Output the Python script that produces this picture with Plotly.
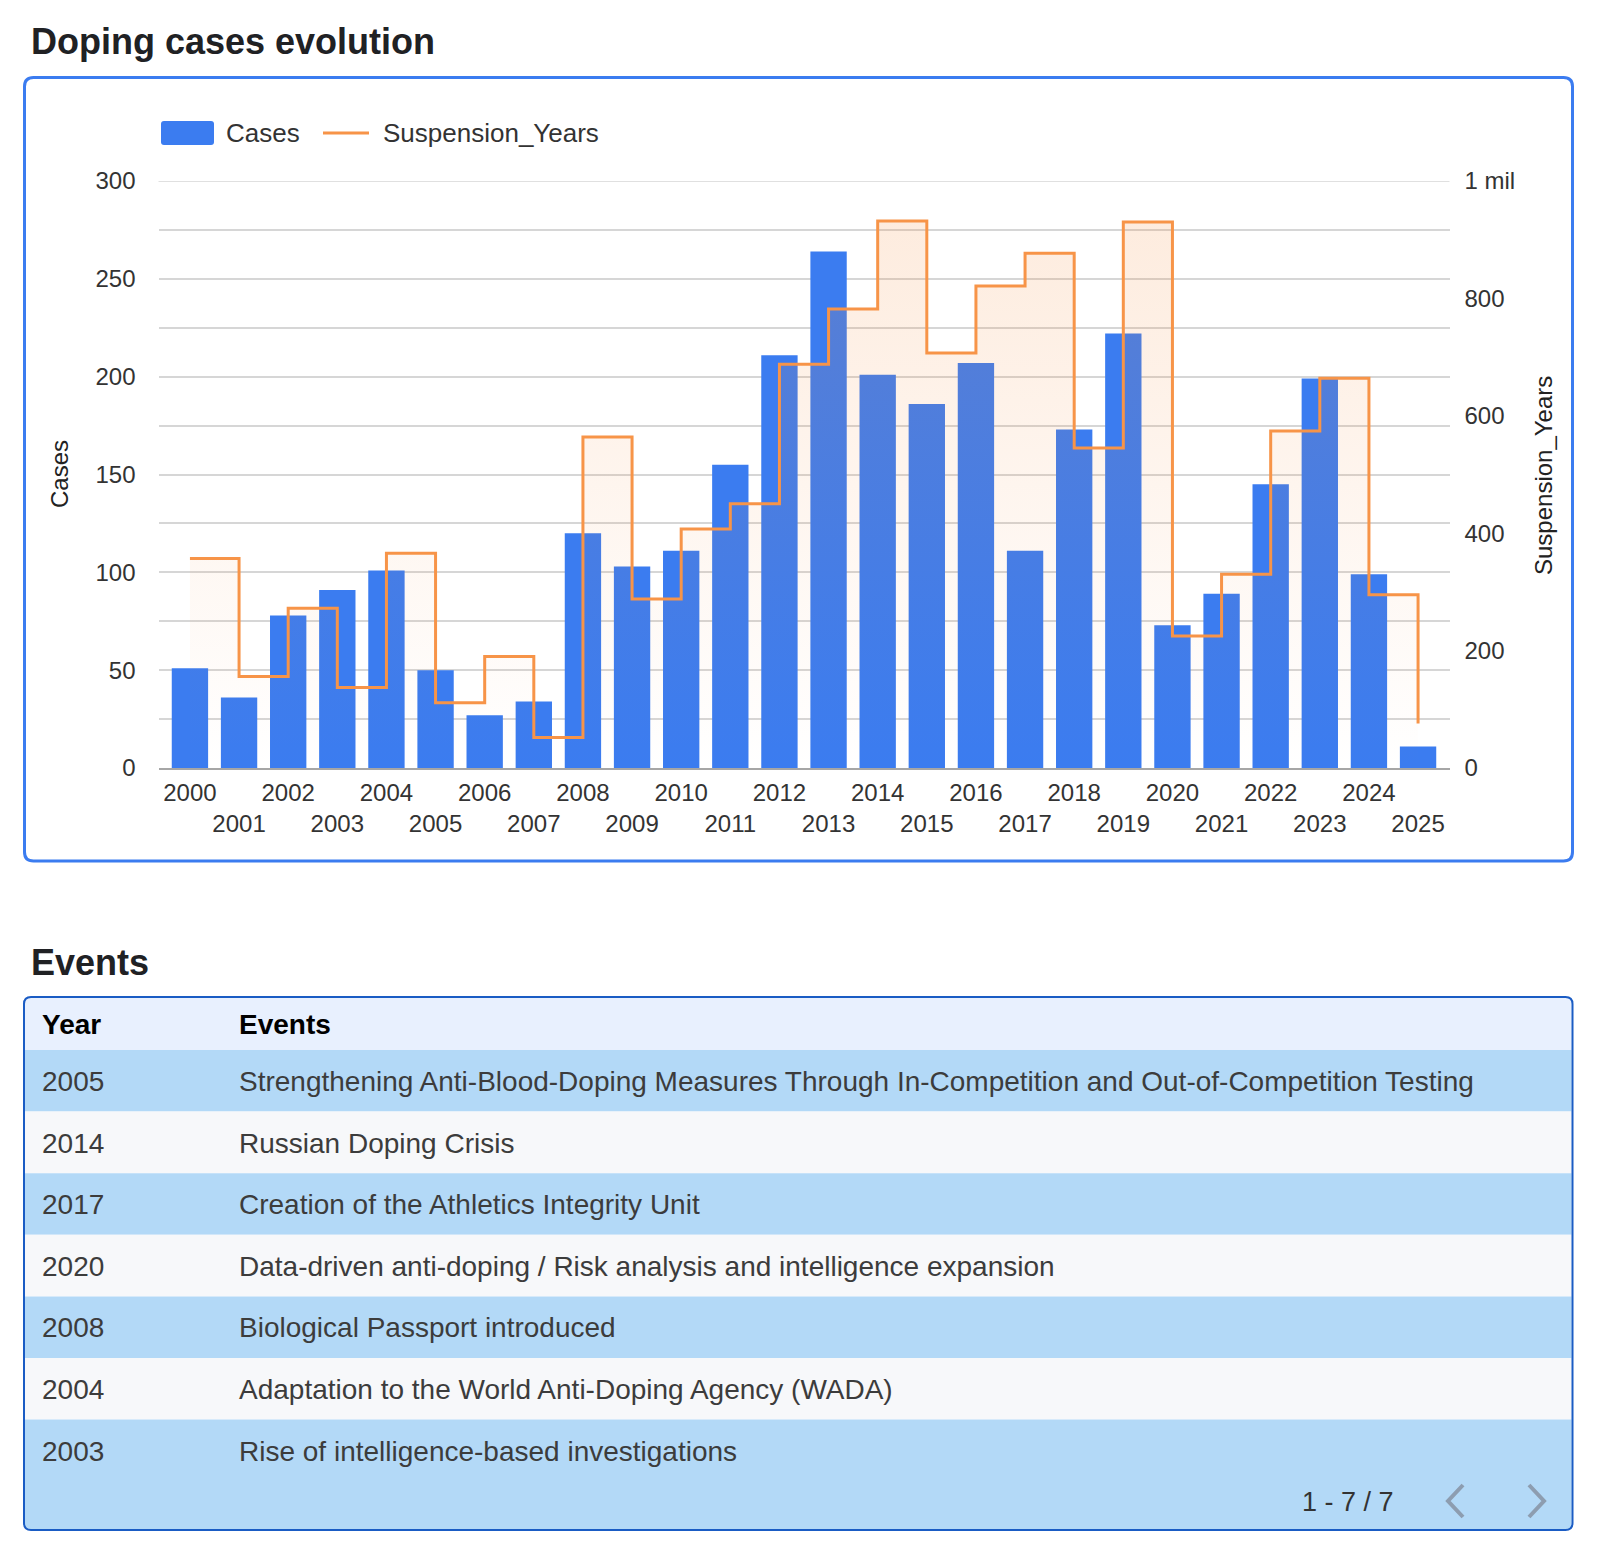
import plotly.graph_objects as go

# ---- data ----
years = [str(y) for y in range(2000, 2026)]
cases = [51, 36, 78, 91, 101, 50, 27, 34, 120, 103, 111, 155, 211,
         264, 201, 186, 207, 111, 173, 222, 73, 89, 145, 199, 99, 11]
suspension_years = [357, 156, 272, 137, 366, 111, 190, 52, 564, 288, 407, 450, 688,
                    782, 932, 707, 821, 877, 545, 930, 225, 330, 574, 664, 295, 76]

event_years = ["2005", "2014", "2017", "2020", "2008", "2004", "2003"]
event_texts = [
    "Strengthening Anti-Blood-Doping Measures Through In-Competition and Out-of-Competition Testing",
    "Russian Doping Crisis",
    "Creation of the Athletics Integrity Unit",
    "Data-driven anti-doping / Risk analysis and intelligence expansion",
    "Biological Passport introduced",
    "Adaptation to the World Anti-Doping Agency (WADA)",
    "Rise of intelligence-based investigations",
]

right_ticks = [0, 200, 400, 600, 800, 1000]
right_ticktext = ["0", "200", "400", "600", "800", "1 mil"]

# ---- page geometry (figure sits inside the 8px body margin) ----
OX, OY, W, H = 8, 8, 1588, 1540
FONT = "Liberation Sans, Arial, sans-serif"
BLUE = "#3b7cf0"
ORANGE = "#f79448"
GRID = "#d6d6d6"
ROW_BLUE = "#b3d9f7"
ROW_GREY = "#f7f8fa"

PLOT_L, PLOT_R, PLOT_T, PLOT_B = 158.5, 1449.5, 181, 768
HEADER_TOP, HEADER_H, ROW_H = 997, 53, 61.6


def fx(x):
    return (x - OX) / W


def fy(y):
    return 1 - (y - OY) / H


def rounded_rect(x0, y0, x1, y1, r):
    a0, a1 = fx(x0), fx(x1)
    b0, b1 = fy(y0), fy(y1)
    rx, ry = r / W, r / H
    return (f"M{a0 + rx},{b0} L{a1 - rx},{b0} Q{a1},{b0} {a1},{b0 - ry} "
            f"L{a1},{b1 + ry} Q{a1},{b1} {a1 - rx},{b1} L{a0 + rx},{b1} "
            f"Q{a0},{b1} {a0},{b1 + ry} L{a0},{b0 - ry} Q{a0},{b0} {a0 + rx},{b0} Z")


fig = go.Figure()

fig.add_trace(go.Bar(
    x=years, y=cases, name="Cases",
    marker=dict(color=BLUE, line=dict(width=0)),
    showlegend=False, hoverinfo="x+y",
))

fig.add_trace(go.Scatter(
    x=years, y=suspension_years, name="Suspension_Years", yaxis="y2",
    mode="lines", line=dict(color=ORANGE, width=3, shape="hv"),
    fill="tozeroy",
    fillgradient=dict(type="vertical", start=0, stop=1000,
                      colorscale=[[0, "rgba(245,140,60,0)"], [1, "rgba(245,140,60,0.18)"]]),
    showlegend=False,
))

# events table: text only, the row bands are drawn as shapes underneath
# (first column is only a left inset)
fig.add_trace(go.Table(
    domain=dict(x=[fx(24), fx(1572)], y=[fy(1530), fy(HEADER_TOP + 4)]),
    columnwidth=[10, 197, 1341],
    header=dict(values=["", "<b>Year</b>", "<b>Events</b>"],
                fill_color="rgba(0,0,0,0)", line=dict(width=0),
                align="left", height=HEADER_H + 8,
                font=dict(family=FONT, size=28, color="#000000")),
    cells=dict(values=[[""] * len(event_years), event_years, event_texts],
               fill_color="rgba(0,0,0,0)", line=dict(width=0),
               align="left", height=ROW_H,
               font=dict(family=FONT, size=28, color="#3c3c3c")),
))

shapes = [
    # top gridline (plotly skips the one on the range edge)
    dict(type="line", xref="paper", yref="y", x0=fx(PLOT_L), x1=fx(PLOT_R), y0=300, y1=300,
         line=dict(color=GRID, width=1.5), layer="below"),
    # chart card
    dict(type="path", xref="paper", yref="paper", path=rounded_rect(24.5, 77.5, 1572.5, 861, 9),
         line=dict(color=BLUE, width=3), fillcolor="rgba(0,0,0,0)"),
    # table header band
    dict(type="rect", xref="paper", yref="paper", x0=fx(25), x1=fx(1571.5),
         y0=fy(HEADER_TOP + 1), y1=fy(HEADER_TOP + HEADER_H),
         fillcolor="#e8f0fe", line=dict(width=0), layer="below"),
]
n_rows = len(event_years)
for i in range(n_rows):
    top = HEADER_TOP + HEADER_H + i * ROW_H
    bottom = 1529 if i == n_rows - 1 else top + ROW_H
    shapes.append(dict(type="rect", xref="paper", yref="paper", x0=fx(25), x1=fx(1571.5),
                       y0=fy(bottom), y1=fy(top),
                       fillcolor=ROW_BLUE if i % 2 == 0 else ROW_GREY,
                       line=dict(width=0), layer="below"))
shapes += [
    # table card
    dict(type="path", xref="paper", yref="paper", path=rounded_rect(24, 997, 1572.5, 1530, 7),
         line=dict(color="#1a5cc4", width=2), fillcolor="rgba(0,0,0,0)"),
    # legend marks
    dict(type="path", xref="paper", yref="paper", path=rounded_rect(161, 121, 214, 145, 3),
         fillcolor=BLUE, line=dict(width=0)),
    dict(type="line", xref="paper", yref="paper", x0=fx(323), x1=fx(369), y0=fy(133), y1=fy(133),
         line=dict(color=ORANGE, width=3)),
    # pager chevrons
    dict(type="path", xref="paper", yref="paper",
         path=f"M{fx(1463)},{fy(1485)} L{fx(1448)},{fy(1501)} L{fx(1463)},{fy(1517)}",
         line=dict(color="#8d9db0", width=4)),
    dict(type="path", xref="paper", yref="paper",
         path=f"M{fx(1529)},{fy(1485)} L{fx(1544)},{fy(1501)} L{fx(1529)},{fy(1517)}",
         line=dict(color="#8d9db0", width=4)),
]

annotations = [
    dict(text="<b>Doping cases evolution</b>", x=fx(29), y=fy(42), xanchor="left", yanchor="middle",
         font=dict(family=FONT, size=36, color="#202124")),
    dict(text="<b>Events</b>", x=fx(29), y=fy(962), xanchor="left", yanchor="middle",
         font=dict(family=FONT, size=36, color="#202124")),
    dict(text="Cases", x=fx(224), y=fy(133), xanchor="left", yanchor="middle",
         font=dict(family=FONT, size=26, color="#333333")),
    dict(text="Suspension_Years", x=fx(381), y=fy(133), xanchor="left", yanchor="middle",
         font=dict(family=FONT, size=26, color="#333333")),
    dict(text="Cases", x=fx(60), y=fy(474), textangle=-90, xanchor="center", yanchor="middle",
         font=dict(family=FONT, size=24, color="#222222")),
    dict(text="Suspension_Years", x=fx(1543), y=fy(476), textangle=-90, xanchor="center", yanchor="middle",
         font=dict(family=FONT, size=24, color="#222222")),
    dict(text="1 - 7 / 7", x=fx(1348), y=fy(1502), xanchor="center", yanchor="middle",
         font=dict(family=FONT, size=27, color="#333333")),
]
for a in annotations:
    a.update(xref="paper", yref="paper", showarrow=False)

ticktext = [y if i % 2 == 0 else "<br>" + y for i, y in enumerate(years)]

fig.update_layout(
    width=W, height=H,
    margin=dict(l=0, r=0, t=0, b=0, autoexpand=False),
    paper_bgcolor="white", plot_bgcolor="rgba(0,0,0,0)",
    bargap=0.26,
    font=dict(family=FONT, size=24, color="#444444"),
    xaxis=dict(domain=[fx(PLOT_L), fx(PLOT_R)], type="category", range=[-0.64, 25.64],
               tickvals=years, ticktext=ticktext, tickangle=0, automargin=False,
               showgrid=False, showline=True, linecolor="#a6a6a6", linewidth=2,
               ticks="", ticklabelstandoff=2,
               tickfont=dict(family=FONT, size=24, color="#333333")),
    yaxis=dict(domain=[fy(PLOT_B), fy(PLOT_T)], range=[0, 300], dtick=50, automargin=False,
               showgrid=True, gridcolor=GRID, gridwidth=1.5,
               minor=dict(dtick=25, showgrid=True, gridcolor=GRID, gridwidth=1.5),
               zeroline=False, ticks="", ticklabelstandoff=22,
               tickfont=dict(family=FONT, size=24, color="#333333")),
    yaxis2=dict(overlaying="y", side="right", range=[0, 1000], automargin=False,
                tickvals=right_ticks, ticktext=right_ticktext,
                showgrid=False, zeroline=False, ticks="", ticklabelstandoff=14,
                tickfont=dict(family=FONT, size=24, color="#333333")),
    shapes=shapes,
    annotations=annotations,
)

fig.write_html("out.html")
